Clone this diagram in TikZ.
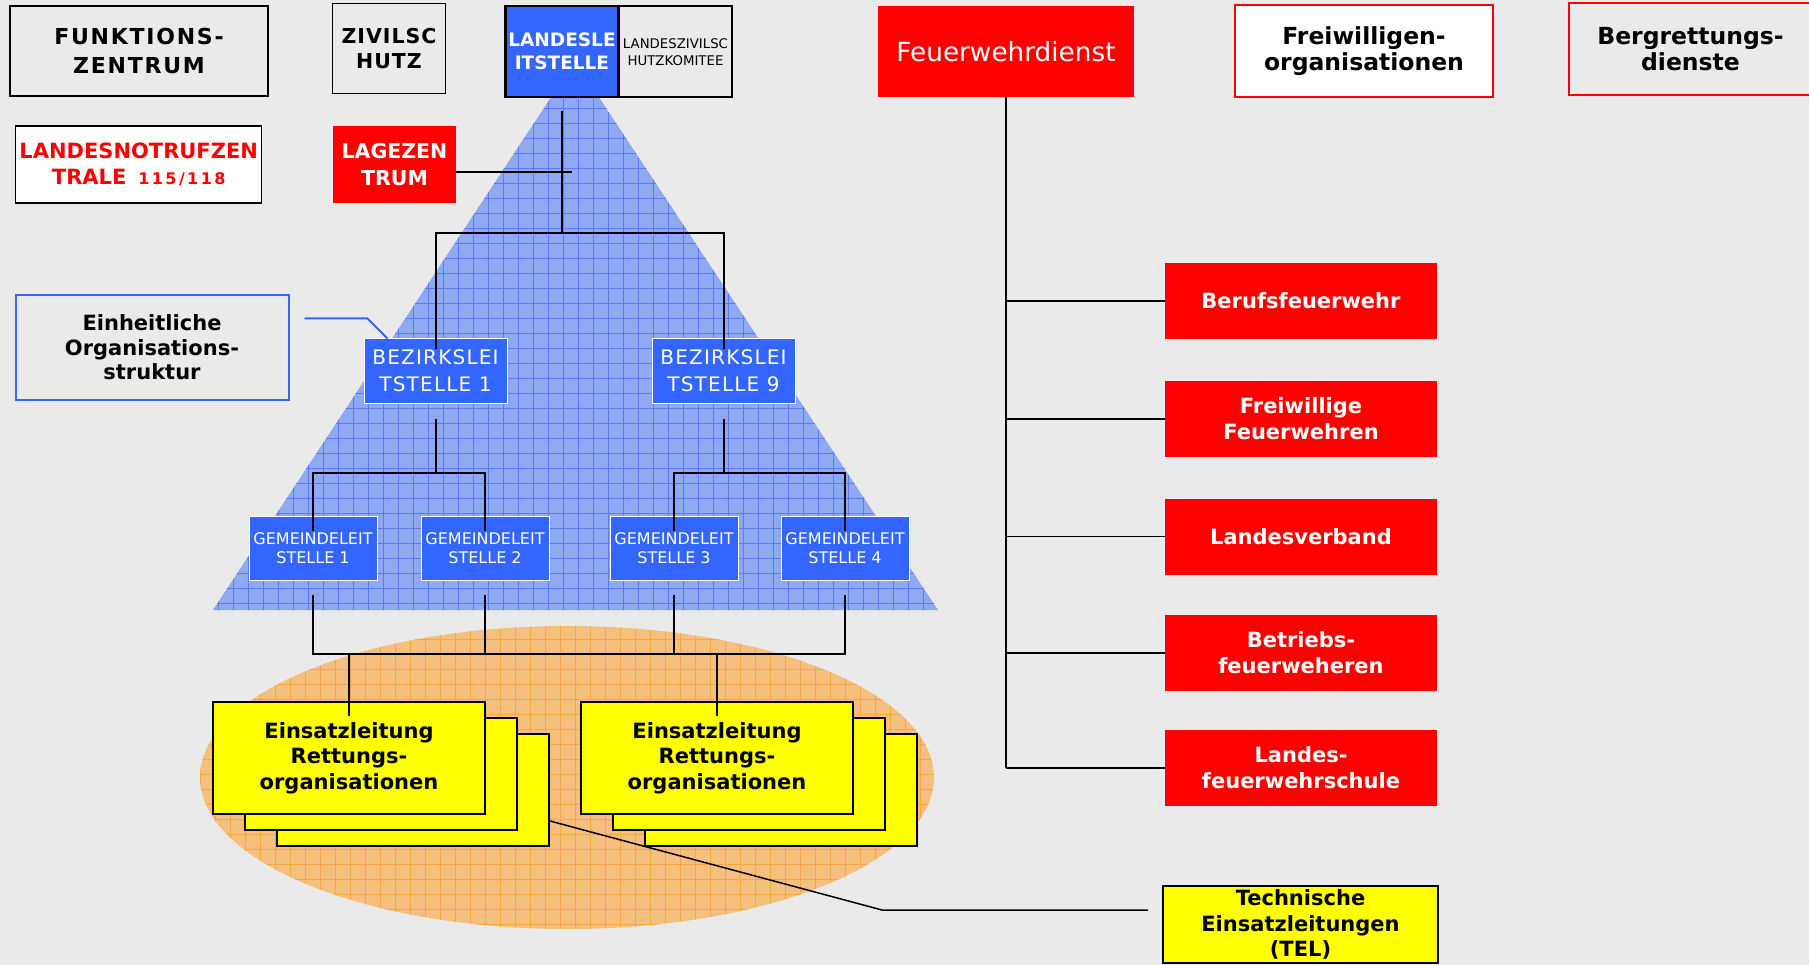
\documentclass[tikz,border=0pt]{standalone}
\usepackage{fontspec}
\setmainfont{DejaVu Sans}
\usetikzlibrary{calc}
\definecolor{bgc}{HTML}{EAEAEA}
\definecolor{bblue}{HTML}{3366FF}
\definecolor{trifill}{HTML}{8FA8F2}
\definecolor{trigrid}{HTML}{5A7BF2}
\definecolor{orfill}{HTML}{F5C07E}
\definecolor{orgrid}{HTML}{F7A740}
\definecolor{fred}{HTML}{FF0000}
\definecolor{fyellow}{HTML}{FFFF00}
\newcommand{\myfs}[2]{\fontsize{#1}{#2}\selectfont}
\begin{document}
\begin{tikzpicture}[x=1pt,y=-1pt,
  lbl/.style={rectangle, inner sep=0pt, align=center},
  gbox/.style={lbl, draw=black, line width=1.5pt, fill=bgc},
  bluebox/.style={lbl, fill=bblue, draw=white, line width=1pt, text=white},
  redbox/.style={lbl, fill=fred, text=white, minimum width=272pt, minimum height=76pt, font=\bfseries\myfs{21}{26}},
  ybox/.style={lbl, fill=fyellow, draw=black, line width=2pt, minimum width=272pt, minimum height=112pt, font=\bfseries\myfs{21}{25.5}},
  conn/.style={black, line width=2pt},
  thinconn/.style={black, line width=1.5pt},
  tgrid/.style={trigrid, line width=0.7pt},
  ogrid/.style={orgrid, line width=0.7pt}]
\fill[bgc] (0,0) rectangle (1809,965);
\useasboundingbox (0,0) rectangle (1809,965);
% triangle
\begin{scope}
  \clip (575,61) -- (938,610) -- (213,610) -- cycle;
  \fill[trifill] (200,50) rectangle (950,620);
  \foreach \x in {203,218,...,945} \draw[tgrid] (\x,50) -- (\x,620);
  \foreach \y in {48,63,...,618} \draw[tgrid] (200,\y) -- (950,\y);
\end{scope}
% ellipse
\begin{scope}
  \clip (567,777.5) ellipse [x radius=367, y radius=151.5];
  \fill[orfill] (195,620) rectangle (940,935);
  \foreach \x in {200,215,...,940} \draw[ogrid] (\x,620) -- (\x,935);
  \foreach \y in {624,639,...,935} \draw[ogrid] (195,\y) -- (940,\y);
\end{scope}
% top row
\node[gbox, minimum width=258pt, minimum height=90pt, font=\bfseries\myfs{22}{29}\addfontfeature{LetterSpace=8}] (funk) at (139,51) {FUNKTIONS-\\ZENTRUM};
\node[gbox, minimum width=113pt, minimum height=90pt, font=\bfseries\myfs{20.5}{25}\addfontfeature{LetterSpace=5}] (zivil) at (389,48.5) {ZIVILSC\\HUTZ};
\node[lbl, fill=bblue, draw=black, line width=2.5pt, text=white, minimum width=113pt, minimum height=91pt, font=\bfseries\myfs{18.5}{23.5}] (ll) at (562,51.5) {LANDESLE\\ITSTELLE};
\node[gbox, line width=2pt, minimum width=113pt, minimum height=91pt, font=\myfs{13.3}{16.5}] (lzk) at (675.5,52) {LANDESZIVILSC\\HUTZKOMITEE};
\node[lbl, fill=white, draw=black, line width=1.5pt, text=fred, minimum width=246pt, minimum height=77pt, font=\bfseries\myfs{21}{26}] (lnz) at (138.7,164.5) {LANDESNOTRUFZEN\\TRALE\hspace{12pt}{\fontsize{16}{26}\selectfont\addfontfeature{LetterSpace=15}115/118}};
\node[lbl, fill=fred, text=white, minimum width=123pt, minimum height=77pt, font=\bfseries\myfs{20.5}{26.5}] (lz) at (394.5,164.5) {LAGEZEN\\TRUM};
\node[lbl, fill=fred, text=white, minimum width=256pt, minimum height=91pt, font=\myfs{26.3}{30}] (fw) at (1006,51.5) {Feuerwehrdienst};
\node[lbl, fill=white, draw=fred, line width=2pt, minimum width=258pt, minimum height=92pt, font=\bfseries\myfs{23.5}{26.5}] (fo) at (1364,51) {Freiwilligen-\\organisationen};
\node[lbl, draw=fred, line width=2pt, minimum width=243pt, minimum height=92pt, font=\bfseries\myfs{23.5}{25.5}] (berg) at (1690.5,49) {Bergrettungs-\\dienste};
% left structure
\node[lbl, draw=bblue, line width=2pt, minimum width=273pt, minimum height=105pt, font=\bfseries\myfs{21}{24.5}] (ein) at (152,347.5) {Einheitliche\\Organisations-\\struktur};
\node[bluebox, minimum width=143pt, minimum height=64pt, font=\myfs{20}{27}\addfontfeature{LetterSpace=6}] (bz1) at (435.5,371) {BEZIRKSLEI\\TSTELLE 1};
\node[bluebox, minimum width=143pt, minimum height=64pt, font=\myfs{20}{27}\addfontfeature{LetterSpace=6}] (bz9) at (723.5,371) {BEZIRKSLEI\\TSTELLE 9};
\node[bluebox, minimum width=128pt, minimum height=64pt, font=\myfs{16}{19.5}] (g1) at (313,548) {GEMEINDELEIT\\STELLE 1};
\node[bluebox, minimum width=128pt, minimum height=64pt, font=\myfs{16}{19.5}] (g2) at (485,548) {GEMEINDELEIT\\STELLE 2};
\node[bluebox, minimum width=128pt, minimum height=64pt, font=\myfs{16}{19.5}] (g3) at (674,548) {GEMEINDELEIT\\STELLE 3};
\node[bluebox, minimum width=128pt, minimum height=64pt, font=\myfs{16}{19.5}] (g4) at (845,548) {GEMEINDELEIT\\STELLE 4};
\node[ybox] (el3) at (413,790) {};
\node[ybox] (el2) at (381,774) {};
\node[ybox] (el1) at (349,758) {Einsatzleitung\\Rettungs-\\organisationen};
\node[ybox] (er3) at (781,790) {};
\node[ybox] (er2) at (749,774) {};
\node[ybox] (er1) at (717,758) {Einsatzleitung\\Rettungs-\\organisationen};
% right column
\node[redbox] (rb1) at (1301,301) {Berufsfeuerwehr};
\node[redbox] (rb2) at (1301,419) {Freiwillige\\Feuerwehren};
\node[redbox] (rb3) at (1301,536.5) {Landesverband};
\node[redbox] (rb4) at (1301,653) {Betriebs-\\feuerweheren};
\node[redbox] (rb5) at (1301,768) {Landes-\\feuerwehrschule};
\node[lbl, fill=fyellow, draw=black, line width=2pt, minimum width=275pt, minimum height=77pt, font=\bfseries\myfs{21}{25.5}] (tel) at (1300.5,924.5) {Technische\\Einsatzleitungen\\(TEL)};
% connectors
\coordinate (jl) at (436,233);
\coordinate (ja) at (0,473);
\coordinate (jb) at (0,654);
\coordinate (tp) at (1148,910);
\draw[conn] ($(ll.south)+(0,13)$) -- (ll.south |- jl);
\draw[conn] ($(bz1.north)+(0,11)$) -- (bz1.north |- jl) -- (bz9.north |- jl) -- ($(bz9.north)+(0,11)$);
\draw[conn] ($(lz.east)+(0,7.5)$) -- ++(116,0);
\draw[conn] ($(bz1.south)+(0,15)$) -- (bz1.south |- ja);
\draw[conn] ($(g1.north)+(0,15)$) -- (g1.north |- ja) -- (g2.north |- ja) -- ($(g2.north)+(0,15)$);
\draw[conn] ($(bz9.south)+(0,15)$) -- (bz9.south |- ja);
\draw[conn] ($(g3.north)+(0,15)$) -- (g3.north |- ja) -- (g4.north |- ja) -- ($(g4.north)+(0,15)$);
\draw[conn] ($(g1.south)+(0,14)$) -- (g1.south |- jb) -- (g4.south |- jb) -- ($(g4.south)+(0,14)$);
\draw[conn] ($(g2.south)+(0,14)$) -- (g2.south |- jb);
\draw[conn] ($(g3.south)+(0,14)$) -- (g3.south |- jb);
\draw[conn] (el1.north |- jb) -- ($(el1.north)+(0,15)$);
\draw[conn] (er1.north |- jb) -- ($(er1.north)+(0,15)$);
\draw[bblue, line width=2pt] ($(ein.east)+(15,-29)$) -- ++(63,0) -- ($(bz1.north west)+(24,0)$);
\draw[thinconn] (fw.south) -- (fw.south |- rb5.west);
\foreach \r in {rb1,rb2,rb3,rb4,rb5} \draw[thinconn] (fw.south |- \r.west) -- (\r.west);
\draw[thinconn] ($(el3.east)+(0,31)$) -- (882,910) -- (tp);
\end{tikzpicture}
\end{document}
